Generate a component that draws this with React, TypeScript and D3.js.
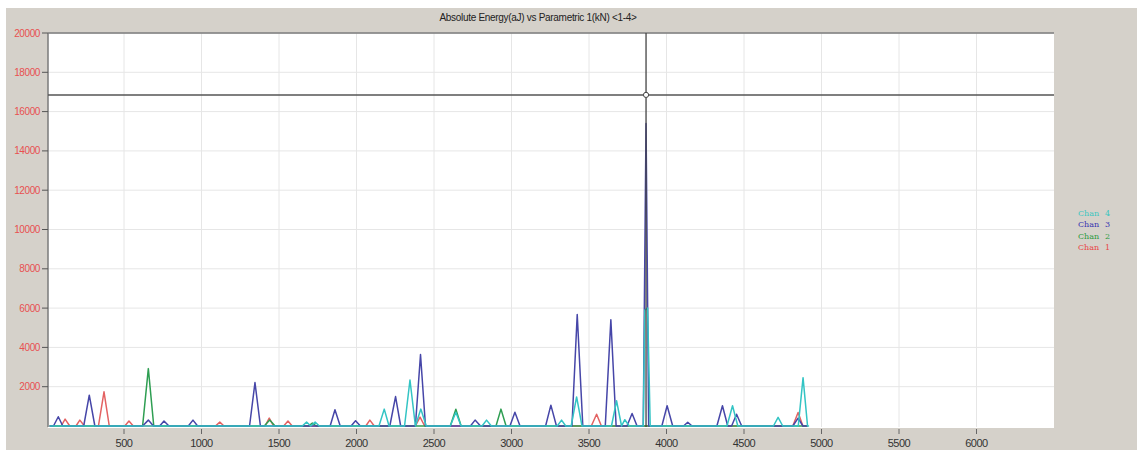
import React from "react";
import * as d3 from "d3";

const title = "Absolute Energy(aJ) vs Parametric 1(kN) <1-4>";
const xTicks = [500, 1000, 1500, 2000, 2500, 3000, 3500, 4000, 4500, 5000, 5500, 6000];
const yTicks = [2000, 4000, 6000, 8000, 10000, 12000, 14000, 16000, 18000, 20000];
const legendNames = ["Chan 4", "Chan 3", "Chan 2", "Chan 1"];
const cursorX = 3868;
const cursorY = 16850;

const chan1: [number, number][] = [[20,0],[95,0],[120,350],[150,0],[190,0],[215,300],[245,0],[335,0],[371,1740],[405,0],[505,0],[532,250],[560,0],[1090,0],[1118,200],[1145,0],[1410,0],[1437,400],[1465,0],[1530,0],[1558,250],[1585,0],[2060,0],[2086,300],[2115,0],[2380,0],[2410,450],[2440,0],[3515,0],[3549,600],[3580,0],[4815,0],[4849,690],[4880,0],[4910,0]];
const chan2: [number, number][] = [[20,0],[620,0],[657,2920],[692,0],[1405,0],[1440,300],[1475,0],[1690,0],[1715,150],[1740,0],[2605,0],[2641,850],[2675,0],[2900,0],[2932,860],[2965,0],[4910,0]];
const chan3: [number, number][] = [[20,0],[45,0],[76,470],[105,0],[240,0],[276,1570],[312,0],[620,0],[657,300],[690,0],[730,0],[758,250],[790,0],[915,0],[945,300],[975,0],[1310,0],[1345,2210],[1380,0],[1830,0],[1861,825],[1895,0],[1965,0],[1994,270],[2025,0],[2215,0],[2252,1500],[2285,0],[2380,0],[2413,3640],[2445,0],[2735,0],[2765,300],[2800,0],[2990,0],[3022,700],[3055,0],[3220,0],[3254,1060],[3290,0],[3390,0],[3424,5670],[3460,0],[3605,0],[3641,5410],[3675,0],[3745,0],[3778,640],[3810,0],[3850,0],[3868,15400],[3885,0],[3970,0],[4004,1030],[4040,0],[4110,0],[4137,190],[4165,0],[4325,0],[4361,1030],[4395,0],[4420,0],[4452,600],[4485,0],[4815,0],[4849,400],[4880,0],[4910,0]];
const chan4: [number, number][] = [[20,0],[1650,0],[1678,200],[1705,0],[1733,200],[1760,0],[2145,0],[2179,860],[2210,0],[2310,0],[2345,2340],[2380,0],[2415,860],[2450,0],[2605,0],[2641,700],[2675,0],[2810,0],[2839,300],[2870,0],[3295,0],[3323,300],[3350,0],[3385,0],[3420,1480],[3455,0],[3645,0],[3678,1280],[3710,0],[3731,320],[3760,0],[3850,0],[3860,5900],[3878,6000],[3895,0],[4390,0],[4426,1030],[4460,0],[4690,0],[4720,440],[4750,0],[4850,0],[4881,2460],[4910,0],[4920,0]];

const seriesColors = ["#e36262", "#2e9e52", "#4646a8", "#33c4c4"];
const legendColors = ["#3cc6c0", "#3535b0", "#2a9a40", "#e84545"];

export default function App() {
  const W = 1137, H = 450;
  const left = 48, right = 1054, top = 33, bottom = 427;
  const x = d3.scaleLinear().domain([0, 6500]).range([46.5, 1054]);
  const y = d3.scaleLinear().domain([0, 20000]).range([bottom - 1, top]);
  const line = d3.line<[number, number]>().x(d => x(d[0])).y(d => y(d[1]));
  const series = [chan1, chan2, chan3, chan4];
  const font = "'Liberation Sans', Arial, sans-serif";
  return (
    <svg width={W} height={H} style={{ position: "absolute", left: 0, top: 0 }}>
      <rect x={0} y={0} width={W} height={H} fill="#ffffff" />
      <rect x={6} y={8} width={W - 6} height={H - 8} fill="#d5d1ca" />
      <rect x={left} y={top} width={right - left} height={bottom - top + 1} fill="#ffffff" />
      <defs>
        <clipPath id="plotclip">
          <rect x={left} y={top} width={right - left} height={bottom - top + 1} />
        </clipPath>
      </defs>
      {xTicks.map(t => (
        <line key={"gx" + t} x1={x(t)} x2={x(t)} y1={top} y2={bottom} stroke="#e6e6e6" strokeWidth={1} />
      ))}
      {yTicks.map(t => (
        <line key={"gy" + t} x1={left} x2={right} y1={y(t)} y2={y(t)} stroke="#e6e6e6" strokeWidth={1} />
      ))}
      <g clipPath="url(#plotclip)">
        {series.map((s, i) => (
          <path key={i} d={line(s) || ""} fill="none" stroke={seriesColors[i]} strokeWidth={1.5} strokeLinejoin="round" />
        ))}
      </g>
      <line x1={left} x2={right} y1={top} y2={top} stroke="#7a7a7a" strokeWidth={1.5} />
      <line x1={left} x2={left} y1={top} y2={bottom} stroke="#7a7a7a" strokeWidth={1.5} />
      {yTicks.map(t => (
        <g key={"yt" + t}>
          <line x1={42} x2={left} y1={y(t)} y2={y(t)} stroke="#555" strokeWidth={1} />
          <text x={40} y={y(t)} dy="0.35em" textAnchor="end" fontFamily={font} fontSize={10} fill="#e85050" letterSpacing={-0.4}>{t}</text>
        </g>
      ))}
      {xTicks.map(t => (
        <g key={"xt" + t}>
          <line x1={x(t)} x2={x(t)} y1={bottom + 2} y2={bottom + 7} stroke="#666" strokeWidth={1} />
          <text x={x(t)} y={447} textAnchor="middle" fontFamily={font} fontSize={11} fill="#333" letterSpacing={-0.5}>{t}</text>
        </g>
      ))}
      <text x={538} y={21} textAnchor="middle" fontFamily={font} fontSize={10} fill="#222" letterSpacing={-0.3}>{title}</text>
      <line x1={x(cursorX)} x2={x(cursorX)} y1={top} y2={bottom} stroke="#444" strokeWidth={1.3} />
      <line x1={left} x2={right} y1={y(cursorY)} y2={y(cursorY)} stroke="#555" strokeWidth={1.5} />
      <circle cx={x(cursorX)} cy={y(cursorY)} r={2.6} fill="#ffffff" stroke="#444" strokeWidth={1} />
      {legendNames.map((n, i) => {
        const parts = n.split(" ");
        return (
          <g key={n}>
            <text x={1078} y={213 + i * 11.5} dy="0.35em" fontFamily="'DejaVu Serif', serif" fontSize={8} fill={legendColors[i]}>{parts[0]}</text>
            <text x={1105} y={213 + i * 11.5} dy="0.35em" fontFamily="'DejaVu Serif', serif" fontSize={8} fill={legendColors[i]}>{parts[1]}</text>
          </g>
        );
      })}
    </svg>
  );
}
